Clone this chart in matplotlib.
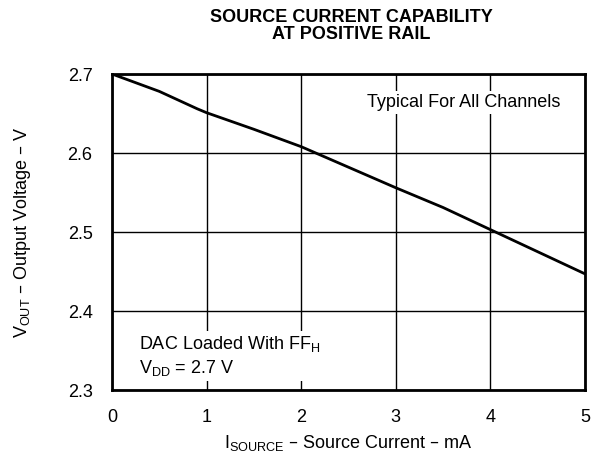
import matplotlib
matplotlib.use("Agg")
import matplotlib.pyplot as plt

plt.rcParams['font.family'] = ['Liberation Sans', 'DejaVu Sans']
plt.rcParams['mathtext.default'] = 'regular'

current_ma = [0.0, 0.5, 0.9, 1.0, 1.5, 2.0, 2.5, 3.0, 3.5, 4.0, 4.5, 5.0]
vout_v = [2.700, 2.678, 2.656, 2.651, 2.630, 2.608, 2.582, 2.556, 2.531, 2.503, 2.475, 2.447]
xticks = [0, 1, 2, 3, 4, 5]
yticks = [2.3, 2.4, 2.5, 2.6, 2.7]

FS = 13

fig = plt.figure(figsize=(5.91, 4.57), dpi=100)
ax = fig.add_axes([112/591, 67/457, 473/591, 316/457])

ax.plot(current_ma, vout_v, color='black', lw=2.0, zorder=3)
ax.set_xlim(0, 5)
ax.set_ylim(2.3, 2.7)
ax.set_xticks(xticks)
ax.set_yticks(yticks)
ax.set_xticklabels([str(t) for t in xticks])
ax.set_yticklabels([f"{t:.1f}" for t in yticks])
ax.tick_params(length=0, labelsize=FS)
ax.tick_params(axis='x', pad=14)
ax.tick_params(axis='y', pad=14)
ax.grid(True, color='black', lw=1.0, zorder=1)
for s in ax.spines.values():
    s.set_linewidth(2.0)

ax.set_xlabel(r'I$_{SOURCE}$ – Source Current – mA', fontsize=FS, labelpad=5)
ax.set_ylabel(r'V$_{OUT}$ – Output Voltage – V', fontsize=FS, labelpad=25)

fig.text(351/591, 1 - 26/457, 'SOURCE CURRENT CAPABILITY\nAT POSITIVE RAIL',
         ha='center', va='center', fontsize=13, fontweight='bold', linespacing=1.0)

bb = dict(facecolor='white', edgecolor='none', pad=2)
ax.text(4.74, 2.664, 'Typical For All Channels', ha='right', va='center',
        fontsize=FS, bbox=bb, zorder=2)
ax.text(0.29, 2.315, 'DAC Loaded With FF$_H$\nV$_{DD}$ = 2.7 V', ha='left', va='bottom',
        fontsize=FS, bbox=bb, zorder=2, linespacing=1.3)

fig.savefig('out.png', dpi=100)
